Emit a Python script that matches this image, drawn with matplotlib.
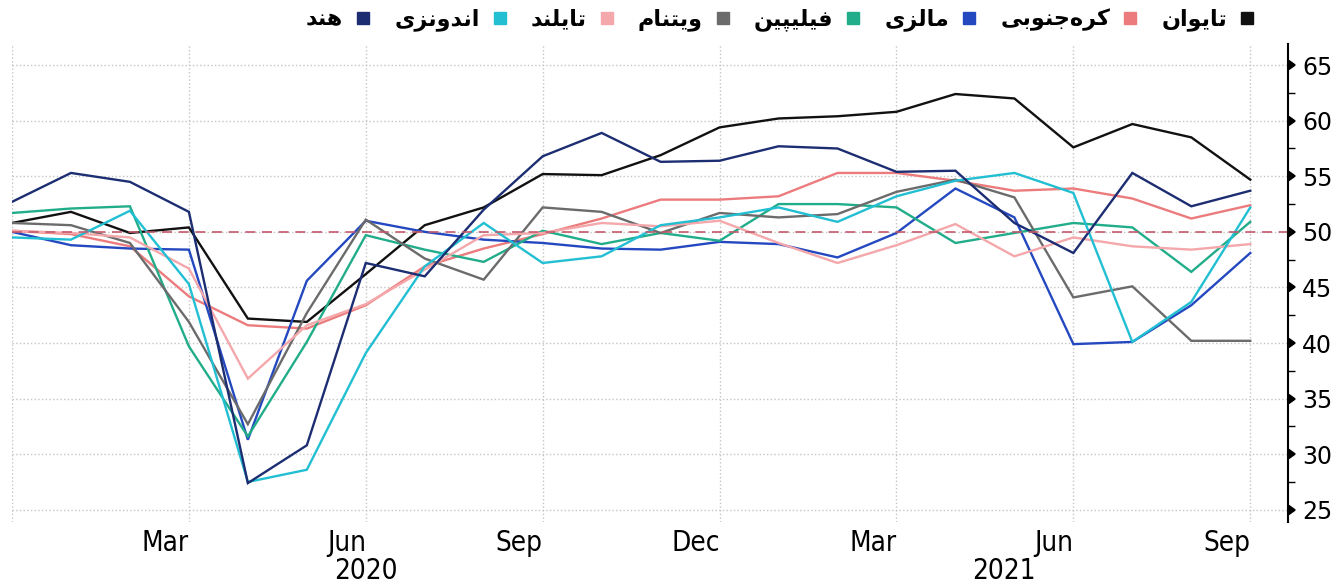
import matplotlib
matplotlib.use('Agg')
import matplotlib.pyplot as plt
import matplotlib.markers as mmarkers
from matplotlib.lines import Line2D
from matplotlib.ticker import MultipleLocator, AutoMinorLocator
import numpy as np
import pandas as pd

# monthly PMI, Dec 2019 .. Sep 2021
months = pd.date_range('2019-12-01', '2021-09-01', freq='MS')

taiwan      = [50.8, 51.8, 49.9, 50.4, 42.2, 41.9, 46.2, 50.6, 52.2, 55.2, 55.1, 56.9, 59.4, 60.2, 60.4, 60.8, 62.4, 62.0, 57.6, 59.7, 58.5, 54.7]
korea       = [50.1, 49.8, 48.7, 44.2, 41.6, 41.3, 43.4, 46.9, 48.5, 49.8, 51.2, 52.9, 52.9, 53.2, 55.3, 55.3, 54.6, 53.7, 53.9, 53.0, 51.2, 52.4]
malaysia    = [50.0, 48.8, 48.5, 48.4, 31.3, 45.6, 51.0, 50.0, 49.3, 49.0, 48.5, 48.4, 49.1, 48.9, 47.7, 49.9, 53.9, 51.3, 39.9, 40.1, 43.4, 48.1]
philippines = [51.7, 52.1, 52.3, 39.7, 31.6, 40.1, 49.7, 48.4, 47.3, 50.1, 48.9, 49.9, 49.2, 52.5, 52.5, 52.2, 49.0, 49.9, 50.8, 50.4, 46.4, 50.9]
vietnam     = [50.8, 50.6, 49.0, 41.9, 32.7, 42.7, 51.1, 47.6, 45.7, 52.2, 51.8, 49.9, 51.7, 51.3, 51.6, 53.6, 54.7, 53.1, 44.1, 45.1, 40.2, 40.2]
thailand    = [50.1, 49.9, 49.5, 46.7, 36.8, 41.6, 43.5, 46.6, 49.7, 49.9, 50.8, 50.5, 51.0, 49.0, 47.2, 48.8, 50.7, 47.8, 49.5, 48.7, 48.4, 48.9]
indonesia   = [49.5, 49.3, 51.9, 45.3, 27.5, 28.6, 39.1, 46.9, 50.8, 47.2, 47.8, 50.6, 51.3, 52.2, 50.9, 53.2, 54.6, 55.3, 53.5, 40.1, 43.7, 52.2]
india       = [52.7, 55.3, 54.5, 51.8, 27.4, 30.8, 47.2, 46.0, 52.0, 56.8, 58.9, 56.3, 56.4, 57.7, 57.5, 55.4, 55.5, 50.8, 48.1, 55.3, 52.3, 53.7]

names = ['تایوان', 'کره\u200cجنوبی', 'مالزی', 'فیلیپین', 'ویتنام', 'تایلند', 'اندونزی', 'هند']
series = [taiwan, korea, malaysia, philippines, vietnam, thailand, indonesia, india]
colors = ['#111111', '#ec7b7d', '#2448c0', '#22ad8a', '#6b6b6b', '#f4a8ab', '#22bfd3', '#1c2d72']

# matplotlib has no arabic shaping, so pick presentation forms by hand
# (isolated, final, initial, medial)
forms = {
    'ا': ('\uFE8D', '\uFE8E', None, None),
    'ب': ('\uFE8F', '\uFE90', '\uFE91', '\uFE92'),
    'پ': ('\uFB56', '\uFB57', '\uFB58', '\uFB59'),
    'ت': ('\uFE95', '\uFE96', '\uFE97', '\uFE98'),
    'ج': ('\uFE9D', '\uFE9E', '\uFE9F', '\uFEA0'),
    'د': ('\uFEA9', '\uFEAA', None, None),
    'ر': ('\uFEAD', '\uFEAE', None, None),
    'ز': ('\uFEAF', '\uFEB0', None, None),
    'ف': ('\uFED1', '\uFED2', '\uFED3', '\uFED4'),
    'ک': ('\uFB8E', '\uFB8F', '\uFB90', '\uFB91'),
    'ل': ('\uFEDD', '\uFEDE', '\uFEDF', '\uFEE0'),
    'م': ('\uFEE1', '\uFEE2', '\uFEE3', '\uFEE4'),
    'ن': ('\uFEE5', '\uFEE6', '\uFEE7', '\uFEE8'),
    'ه': ('\uFEE9', '\uFEEA', '\uFEEB', '\uFEEC'),
    'و': ('\uFEED', '\uFEEE', None, None),
    'ی': ('\uFBFC', '\uFBFD', '\uFBFE', '\uFBFF'),
}

def shape(word):
    out = []
    for i, ch in enumerate(word):
        if ch not in forms:
            continue
        prev = word[i - 1] if i > 0 else None
        nxt = word[i + 1] if i + 1 < len(word) else None
        jp = prev in forms and forms[prev][2] is not None
        jn = nxt in forms and forms[ch][2] is not None
        iso, fin, ini, med = forms[ch]
        if jp and jn:
            out.append(med)
        elif jp:
            out.append(fin)
        elif jn:
            out.append(ini)
        else:
            out.append(iso)
    return ''.join(reversed(out))

x = np.arange(len(months))
xfont = dict(fontsize=20, family='DejaVu Sans', stretch='condensed')

fig = plt.figure(figsize=(13.41, 5.84), dpi=100)
ax = fig.add_axes([12 / 1341, 62 / 584, 1276 / 1341, 478 / 584])

for vals, c in zip(series, colors):
    ax.plot(x, vals, color=c, lw=1.7, solid_joinstyle='miter')

ax.axhline(50, color='#c55a6c', lw=1.2, dashes=(6, 4))

ax.set_xlim(0, 21.64)
ax.set_ylim(23.9, 66.9)

# quarterly ticks
qidx = [i for i, m in enumerate(months) if m.month in (3, 6, 9, 12)]
ax.set_xticks(qidx)
ax.set_xticklabels(['' if i == 0 else months[i].strftime('%b') for i in qidx], ha='right', **xfont)
ax.tick_params(axis='x', length=0, pad=5)

# year labels under the middle of each visible year
for yr in (2020, 2021):
    start = max(0, [i for i, m in enumerate(months) if m.year == yr][0] - 1)
    end = min(ax.get_xlim()[1], start + 12)
    ax.annotate(str(yr), xy=((start + end) / 2, 0), xycoords=('data', 'axes fraction'),
                xytext=(0, -25), textcoords='offset points', ha='center', va='top', **xfont)

ax.yaxis.tick_right()
ax.yaxis.set_major_locator(MultipleLocator(5))
ax.yaxis.set_minor_locator(AutoMinorLocator(2))
ax.tick_params(axis='y', which='major', labelsize=17, pad=3, length=7, width=1.2, color='black')
ax.tick_params(axis='y', which='minor', length=5, width=1, color='black')

ax.grid(True, which='major', color='#c4c4c4', linestyle=':', lw=1)
for s in ['left', 'top', 'bottom']:
    ax.spines[s].set_visible(False)
ax.spines['right'].set_linewidth(1.5)

fig.canvas.draw()
for t in ax.yaxis.get_major_ticks():
    t.tick2line.set_marker(mmarkers.CARETRIGHTBASE)
    t.tick2line.set_markersize(7)

handles = [Line2D([], [], ls='none', marker='s', markersize=8, color=c) for c in colors]
labels = [shape(n) for n in names]
fig.legend(handles[::-1], labels[::-1], ncol=8, loc='upper right', bbox_to_anchor=(1276 / 1341, 1.02),
           frameon=False, markerfirst=False, handlelength=0.8, handletextpad=0.5, columnspacing=1.0,
           prop={'family': 'DejaVu Sans', 'weight': 'bold', 'size': 16})

fig.savefig('out.png', dpi=100)
